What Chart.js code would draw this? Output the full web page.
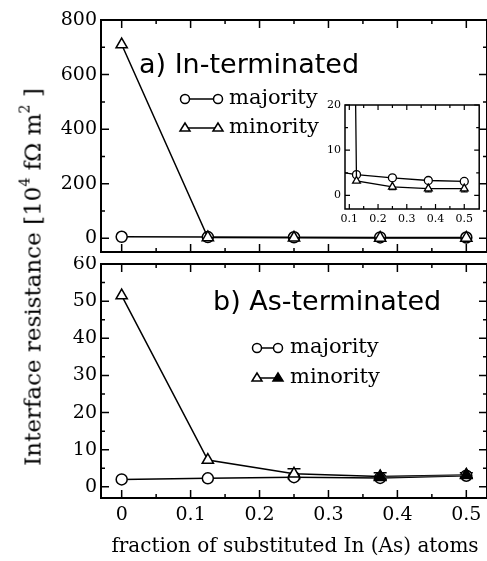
<!DOCTYPE html>
<html><head><meta charset="utf-8">
<script src="https://cdn.jsdelivr.net/npm/chart.js@4.4.0/dist/chart.umd.min.js"></script>
<style>
html,body{margin:0;padding:0;background:#fff;width:487px;height:561px;overflow:hidden;position:relative;}
canvas{position:absolute;}
.t{position:absolute;white-space:nowrap;color:#000;line-height:1;}
.serif{font-family:"DejaVu Serif";}
.sans{font-family:"DejaVu Sans";}
sup{font-size:0.62em;vertical-align:0.75em;line-height:0;}
</style></head><body>
<canvas id="cTop" width="495" height="260" style="left:0;top:0"></canvas>
<canvas id="cBot" width="495" height="282" style="left:0;top:256px"></canvas>
<canvas id="cIns" width="185" height="136" style="left:300px;top:95px"></canvas>

<div class="t sans" style="left:139px;top:63px;font-size:27px;transform:translateY(-50%)">a) In-terminated</div>
<div class="t sans" style="left:213px;top:300px;font-size:27px;transform:translateY(-50%)">b) As-terminated</div>

<svg style="position:absolute;left:178px;top:90px" width="48" height="48">
  <line x1="7" y1="9" x2="40" y2="9" stroke="#000" stroke-width="1.5"/>
  <circle cx="7" cy="9" r="4.5" fill="#fff" stroke="#000" stroke-width="1.5"/>
  <circle cx="40" cy="9" r="4.5" fill="#fff" stroke="#000" stroke-width="1.5"/>
  <line x1="7" y1="38" x2="40" y2="38" stroke="#000" stroke-width="1.5"/>
  <polygon points="7,33 2,41 12,41" fill="#fff" stroke="#000" stroke-width="1.5"/>
  <polygon points="40,33 35,41 45,41" fill="#fff" stroke="#000" stroke-width="1.5"/>
</svg>
<div class="t serif" style="left:229px;top:99px;font-size:21px;transform:translateY(-55%)">majority</div>
<div class="t serif" style="left:229px;top:128px;font-size:21px;transform:translateY(-55%)">minority</div>

<svg style="position:absolute;left:250px;top:338px" width="40" height="50">
  <line x1="7" y1="10" x2="28" y2="10" stroke="#000" stroke-width="1.5"/>
  <circle cx="7" cy="10" r="4.5" fill="#fff" stroke="#000" stroke-width="1.5"/>
  <circle cx="28" cy="10" r="4.5" fill="#fff" stroke="#000" stroke-width="1.5"/>
  <line x1="7" y1="40" x2="28" y2="40" stroke="#000" stroke-width="1.5"/>
  <polygon points="7,35 2,43 12,43" fill="#fff" stroke="#000" stroke-width="1.5"/>
  <polygon points="28,35 23,43 33,43" fill="#000" stroke="#000" stroke-width="1.5"/>
</svg>
<div class="t serif" style="left:290px;top:348px;font-size:21px;transform:translateY(-55%)">majority</div>
<div class="t serif" style="left:290px;top:378px;font-size:21px;transform:translateY(-55%)">minority</div>

<div class="t serif" style="left:295px;top:545px;font-size:20px;transform:translate(-50%,-50%)">fraction of substituted In (As) atoms</div>
<div class="t serif" style="left:33px;top:277px;font-size:23px;transform:translate(-50%,-50%) rotate(-90deg)">Interface resistance [10<sup>4</sup> fΩ m<sup>2</sup> ]</div>

<script>
// ---- data ----
const xFrac = [0, 0.125, 0.25, 0.375, 0.5];
const inMajority = [5.8, 4.6, 3.9, 3.3, 3.1];
const inMinority = [710, 3.2, 1.9, 1.5, 1.5];
const inMajErrLow = [null, null, 1.3, 0.8, 0.8];
const inMajErrHigh = [null, null, 4.4, 3.8, 3.6];
const asMajority = [2.0, 2.3, 2.6, 2.4, 3.0];
const asMinority = [51.5, 7.2, 3.5, 2.8, 3.2];
const asMinorityFilled = [null, null, null, 2.6, 3.1];
const asMinErrLow = [null, null, 2.2, 2.0, 2.5];
const asMinErrHigh = [null, null, 4.9, 3.8, 3.8];

// ---- ticks ----
const xMajorTicks = [0, 0.1, 0.2, 0.3, 0.4, 0.5];
const xMinorTicks = [0.05, 0.15, 0.25, 0.35, 0.45];
const topYMajorTicks = [0, 200, 400, 600, 800];
const topYMinorTicks = [100, 300, 500, 700];
const botYMajorTicks = [0, 10, 20, 30, 40, 50, 60];
const botYMinorTicks = [5, 15, 25, 35, 45, 55];
const insXMajorTicks = [0.1, 0.2, 0.3, 0.4, 0.5];
const insXMinorTicks = [0.15, 0.25, 0.35, 0.45];
const insYMajorTicks = [0, 10, 20];
const insYMinorTicks = [5, 15];

const pts = (ys) => xFrac.map((x, i) => ({x, y: ys[i]})).filter(p => p.y !== null);

const framePlugin = {
  id: 'frameTicks',
  beforeDraw(chart, args, o) {
    if (o.bg) { const a = chart.chartArea; const c = chart.ctx; c.save(); c.fillStyle = '#fff'; c.fillRect(a.left, a.top, a.right - a.left, a.bottom - a.top); c.restore(); }
  },
  beforeDatasetsDraw(chart, args, o) {
    const c = chart.ctx, xs = chart.scales.x, ys = chart.scales.y;
    c.save();
    c.beginPath(); const a = chart.chartArea; c.rect(a.left, a.top, a.right - a.left, a.bottom - a.top); c.clip();
    c.strokeStyle = '#000'; c.lineWidth = o.errWidth || 1.5;
    chart.data.datasets.forEach(ds => {
      if (!ds.errLow) return;
      xFrac.forEach((x, i) => {
        if (ds.errLow[i] == null) return;
        const px = xs.getPixelForValue(x);
        const pl = ys.getPixelForValue(ds.errLow[i]), ph = ys.getPixelForValue(ds.errHigh[i]);
        const w = o.cap;
        c.beginPath();
        c.moveTo(px, pl); c.lineTo(px, ph);
        c.moveTo(px - w, pl); c.lineTo(px + w, pl);
        c.moveTo(px - w, ph); c.lineTo(px + w, ph);
        c.stroke();
      });
    });
    c.restore();
  },
  afterDraw(chart, args, o) {
    const c = chart.ctx, a = chart.chartArea, xs = chart.scales.x, ys = chart.scales.y;
    c.save();
    c.strokeStyle = '#000';
    c.lineWidth = o.tickWidth;
    c.beginPath();
    const tx = (vals, len) => vals.forEach(v => {
      const p = xs.getPixelForValue(v);
      c.moveTo(p, a.bottom); c.lineTo(p, a.bottom - len);
      c.moveTo(p, a.top); c.lineTo(p, a.top + len);
    });
    const ty = (vals, len) => vals.forEach(v => {
      const p = ys.getPixelForValue(v);
      c.moveTo(a.left, p); c.lineTo(a.left + len, p);
      c.moveTo(a.right, p); c.lineTo(a.right - len, p);
    });
    tx(o.xMajor, o.major); tx(o.xMinor, o.minor);
    ty(o.yMajor, o.major); ty(o.yMinor, o.minor);
    c.stroke();
    c.lineWidth = o.frame;
    c.strokeRect(a.left, a.top, a.right - a.left, a.bottom - a.top);
    c.restore();
  }
};

function ds(label, ys, style, radius, fill, extra) {
  return Object.assign({
    label, data: pts(ys), showLine: true, borderColor: '#000', borderWidth: 1.5,
    pointStyle: style, pointRadius: radius, pointHoverRadius: radius,
    pointBackgroundColor: fill, pointBorderColor: '#000', pointBorderWidth: 1.5,
    clip: 0
  }, extra || {});
}

function yAxis(min, max, labels, width, size, pad) {
  return {
    type: 'linear', min, max,
    afterBuildTicks: s => { s.ticks = labels.map(v => ({value: v})); },
    afterFit: s => { s.width = width; s.paddingTop = 0; s.paddingBottom = 0; },
    grid: {display: false, drawTicks: false}, border: {display: false},
    ticks: {font: {family: 'DejaVu Serif', size}, color: '#000', padding: pad}
  };
}
function xAxis(min, max, labels, height, size, pad, show) {
  if (!show) return {type: 'linear', min, max, display: false};
  return {
    type: 'linear', min, max,
    afterBuildTicks: s => { s.ticks = labels.map(v => ({value: v})); },
    afterFit: s => { s.height = height; s.paddingLeft = 0; s.paddingRight = 0; },
    grid: {display: false, drawTicks: false}, border: {display: false},
    ticks: {font: {family: 'DejaVu Serif', size}, color: '#000', padding: pad, maxRotation: 0, autoSkip: false,
      callback: v => String(v)}
  };
}

const common = {responsive: false, animation: false, devicePixelRatio: 1,
  plugins: {legend: {display: false}, tooltip: {enabled: false}}, events: []};

new Chart(document.getElementById('cTop'), {
  type: 'scatter',
  data: {datasets: [
    ds('majority', inMajority, 'circle', 5.5, '#fff', {order: 1}),
    ds('minority', inMinority, 'triangle', 6.5, '#fff', {order: 0})
  ]},
  options: Object.assign({}, common, {
    layout: {padding: {left: 0, top: 20, right: 6.5, bottom: 6}},
    scales: {x: xAxis(-0.03, 0.53, xMajorTicks, 0, 19, 0, false), y: yAxis(-50, 800, topYMajorTicks, 101, 19, 4)},
    plugins: Object.assign({}, common.plugins, {frameTicks: {xMajor: xMajorTicks, xMinor: xMinorTicks, yMajor: topYMajorTicks, yMinor: topYMinorTicks, major: 8, minor: 4, frame: 2, tickWidth: 1.5, cap: 6}})
  }),
  plugins: [framePlugin]
});

new Chart(document.getElementById('cBot'), {
  type: 'scatter',
  data: {datasets: [
    ds('majority', asMajority, 'circle', 5.5, '#fff', {order: 2}),
    ds('minority', asMinority, 'triangle', 6.5, '#fff', {order: 1, errLow: asMinErrLow, errHigh: asMinErrHigh}),
    ds('minority (filled)', asMinorityFilled, 'triangle', 6.5, '#000', {order: 0, borderColor: '#555', borderWidth: 1})
  ]},
  options: Object.assign({}, common, {
    layout: {padding: {left: 0, top: 6, right: 6.5, bottom: 0}},
    scales: {x: xAxis(-0.03, 0.53, xMajorTicks, 40, 19, 6, true), y: yAxis(-3, 60, botYMajorTicks, 101, 19, 4)},
    plugins: Object.assign({}, common.plugins, {frameTicks: {xMajor: xMajorTicks, xMinor: xMinorTicks, yMajor: botYMajorTicks, yMinor: botYMinorTicks, major: 8, minor: 4, frame: 2, tickWidth: 1.5, cap: 6.5}})
  }),
  plugins: [framePlugin]
});

new Chart(document.getElementById('cIns'), {
  type: 'scatter',
  data: {datasets: [
    ds('majority', inMajority, 'circle', 4, '#fff', {order: 1, borderWidth: 1.3, pointBorderWidth: 1.3, errLow: inMajErrLow, errHigh: inMajErrHigh}),
    ds('minority', inMinority, 'triangle', 4.5, '#fff', {order: 0, borderWidth: 1.3, pointBorderWidth: 1.3})
  ]},
  options: Object.assign({}, common, {
    layout: {padding: {left: 0, top: 10, right: 5, bottom: 0}},
    scales: {x: xAxis(0.085, 0.552, insXMajorTicks, 22, 11, 4, true), y: yAxis(-3, 20, insYMajorTicks, 45, 11, 4)},
    plugins: Object.assign({}, common.plugins, {frameTicks: {bg: true, xMajor: insXMajorTicks, xMinor: insXMinorTicks, yMajor: insYMajorTicks, yMinor: insYMinorTicks, major: 5, minor: 3, frame: 1.5, tickWidth: 1.2, cap: 3.5, errWidth: 1.2}})
  }),
  plugins: [framePlugin]
});
</script>
</body></html>
